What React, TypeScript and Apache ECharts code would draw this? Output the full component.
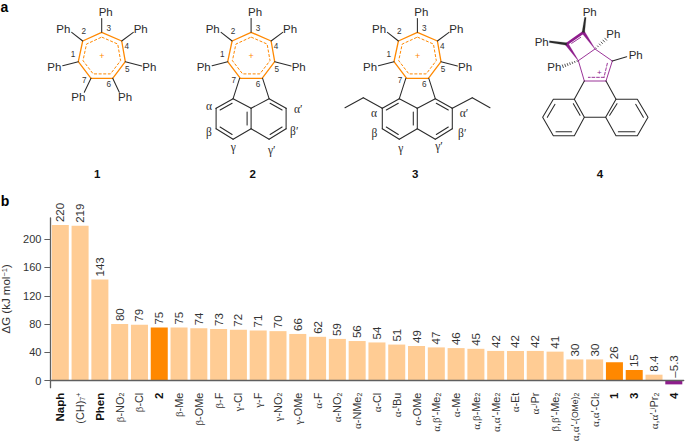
import React, { useEffect, useRef } from "react";
import * as echarts from "echarts";

const categories = [
  "{b|Naph}", "(CH){s|7}{u|+}", "{b|Phen}", "β-NO{s|2}", "β-Cl", "{b|2}", "β-Me", "β-OMe", "β-F", "γ-Cl", "γ-F",
  "γ-NO{s|2}", "γ-OMe", "α-F", "α-NO{s|2}", "α-NMe{s|2}", "α-Cl", "α-{u|t}Bu", "α-OMe", "α,β′-Me{s|2}", "α-Me",
  "α,β-Me{s|2}", "α,α′-Me{s|2}", "α-Et", "α-{u|i}Pr", "β,β′-Me{s|2}", "α,α′-{t|(OMe)}{s|2}", "α,α′-Cl{s|2}",
  "{b|1}", "{b|3}", "α,α′-{u|i}Pr{s|2}", "{b|4}",
];
const values = [220, 219, 143, 80, 79, 75, 75, 74, 73, 72, 71, 70, 66, 62, 59, 56, 54, 51, 49, 47, 46, 45, 42, 42, 42, 41, 30, 30, 26, 15, 8.4, -5.3];
const strongBars = [5, 28, 29];
const purpleBars = [31];
const yTicks = [0, 40, 80, 120, 160, 200];

const LIGHT = "#FFCC94";
const ORANGE = "#FF8800";
const PURPLE = "#8E1D8C";
const INK = "#2b2b2b";
const SANS = '"Liberation Sans", Arimo, Helvetica, sans-serif';
const SERIF = '"Liberation Serif", serif';

type P = [number, number];
const g: any[] = [];
const line = (a: P, b: P, stroke = INK, lineWidth = 1.05, lineDash?: number[]) =>
  g.push({ type: "line", silent: true, shape: { x1: a[0], y1: a[1], x2: b[0], y2: b[1] }, style: { stroke, lineWidth, lineDash, lineCap: "round" } });
const poly = (points: P[], fill: string) =>
  g.push({ type: "polygon", silent: true, shape: { points }, style: { fill, stroke: fill, lineWidth: 0.2 } });
const ring = (points: P[], stroke: string, lineWidth: number, lineDash?: number[]) =>
  g.push({ type: "polygon", silent: true, shape: { points }, style: { fill: "none", stroke, lineWidth, lineDash, lineJoin: "round" } });
const text = (t: string, x: number, y: number, size = 11.5, fill = INK, weight = "normal", family = SANS) =>
  g.push({ type: "text", silent: true, x, y, style: { text: t, fill, fontSize: size, fontWeight: weight, fontFamily: family, align: "center", verticalAlign: "middle" } });

// tropylium core, coordinates relative to molecule 1
const hept: P[] = [[101.7, 32.3], [121.7, 41], [125.3, 61.7], [112.7, 78.3], [91, 78.3], [78.3, 61.7], [82.7, 41]];
const centre: P = [101.8, 56.3];
const phBonds: P[] = [[101.7, 18.5], [133.3, 32.3], [141.7, 66], [119.3, 92.3], [84.3, 92.3], [62.7, 65.7], [71.7, 32.3]];
const phLabels: P[] = [[105.7, 12], [140.7, 28.7], [149.3, 67], [125, 97.3], [78.3, 97.3], [54.3, 67], [63.3, 28.7]];
const numbers: [string, number, number][] = [["3", 108.7, 28.5], ["4", 126.7, 46.7], ["5", 127.3, 69.3], ["6", 108.7, 84], ["7", 84.3, 80.7], ["1", 73, 54], ["2", 83.7, 31.7]];

function tropylium(dx: number, skip: number[]) {
  const shifted = hept.map((p) => [p[0] + dx, p[1]] as P);
  ring(shifted, ORANGE, 1.3);
  const inner = hept.map((p) => [centre[0] + dx + (p[0] - centre[0]) * 0.8, centre[1] + (p[1] - centre[1]) * 0.8] as P);
  ring(inner, ORANGE, 1, [3, 1.6]);
  text("+", centre[0] + dx, centre[1], 9, ORANGE);
  hept.forEach((p, i) => {
    if (skip.includes(i)) return;
    line([p[0] + dx, p[1]], [phBonds[i][0] + dx, phBonds[i][1]]);
    text("Ph", phLabels[i][0] + dx, phLabels[i][1]);
  });
  numbers.forEach(([n, x, y]) => text(n, x + dx, y, 8.2, "#333"));
}

// fused naphthalene, coordinates relative to the top vertex of the seven-membered ring
const naph = (x0: number) => {
  const R: P[] = [[18, 98.7], [35, 108.3], [35, 128.7], [18, 139.3], [0, 128.7], [0, 108.3]];
  const L: P[] = R.map((p) => [-p[0], p[1]] as P);
  const at = (p: P): P => [p[0] + x0, p[1]];
  [R, L].forEach((Q) => {
    Q.forEach((p, i) => {
      if (i === 4) return;
      line(at(p), at(Q[(i + 1) % 6]));
    });
  });
  line(at([0, 128.7]), at([0, 108.3]));
  line(at([-4, 112]), at([-4, 125]));
  [1, -1].forEach((s) => {
    line(at([s * 19, 103.2]), at([s * 31, 110]));
    line(at([s * 31, 127]), at([s * 19, 134.5]));
    line(at([s * 18, 98.7]), at([s * 11.5, 78.3]), INK);
  });
};

tropylium(0, []);
text("1", 97.3, 173.7, 11.5, "#111", "bold");

tropylium(149.4, [3, 4]);
naph(251.1);
[["α", 209, 106], ["β", 209, 131.7], ["γ", 233.3, 146.7]].forEach(([t, x, y]) => text(t as string, x as number, y as number, 11.5, INK, "normal", SERIF));
[["α′", 298.3, 109], ["β′", 294.3, 131], ["γ′", 271.7, 150]].forEach(([t, x, y]) => text(t as string, x as number, y as number, 11.5, INK, "normal", SERIF));
text("2", 252.7, 173.7, 11.5, "#111", "bold");

tropylium(315.7, [3, 4]);
naph(417.3);
line([382.3, 108.3], [363.3, 97.7]);
line([363.3, 97.7], [345, 107.7]);
line([452.3, 108.3], [472.3, 97.7]);
line([472.3, 97.7], [490, 107.7]);
[["α", 374, 112.7], ["β", 374.3, 133], ["γ", 400.7, 147.7], ["α′", 464, 112.7], ["β′", 462.3, 133], ["γ′", 439, 146]].forEach(([t, x, y]) => text(t as string, x as number, y as number, 11.5, INK, "normal", SERIF));
text("3", 415.3, 173.7, 11.5, "#111", "bold");

// molecule 4, read in the zoomed frame
const z = (x: number, y: number): P => [460 + x / 3, y / 3];
const a = z(370, 97), b = z(320, 132), c = z(355, 182), d = z(405, 147), e = z(457, 183), f = z(438, 243), h = z(373, 243);
const wedge = (wide: P, tip: P, w: number, fill: string, tipW = 0.4) => {
  const dx = tip[0] - wide[0], dy = tip[1] - wide[1], l = Math.hypot(dx, dy);
  const nx = -dy / l, ny = dx / l;
  poly([[wide[0] + nx * w / 2, wide[1] + ny * w / 2], [wide[0] - nx * w / 2, wide[1] - ny * w / 2], [tip[0] - nx * tipW / 2, tip[1] - ny * tipW / 2], [tip[0] + nx * tipW / 2, tip[1] + ny * tipW / 2]], fill);
};
const hash = (from: P, to: P, n: number, w0: number, w1: number) => {
  const dx = to[0] - from[0], dy = to[1] - from[1], l = Math.hypot(dx, dy);
  const nx = -dy / l, ny = dx / l;
  for (let i = 0; i < n; i++) {
    const t = (i + 0.5) / n;
    const w = w0 + (w1 - w0) * t;
    const x = from[0] + dx * t, y = from[1] + dy * t;
    line([x + nx * w / 2, y + ny * w / 2], [x - nx * w / 2, y - ny * w / 2], INK, 0.8);
  }
};
line(a, b, PURPLE, 2.7);
wedge(a, d, 3.2, PURPLE);
wedge(b, c, 3.2, PURPLE);
line(c, d, PURPLE, 0.9);
line(z(335, 130), z(362, 112), PURPLE, 0.9);
line(d, e, PURPLE, 0.9);
line(e, f, PURPLE, 0.9);
line(f, h, PURPLE, 0.9);
line(h, c, PURPLE, 0.9);
line(z(442, 190), z(432, 232), PURPLE, 0.9, [2.8, 1.8]);
line(z(432, 232), z(385, 232), PURPLE, 0.9, [2.8, 1.8]);
text("+", ...z(418, 217), 8, PURPLE);
wedge(a, z(376, 52), 2.6, INK, 1.6);
wedge(b, z(268, 125), 2.6, INK, 1.6);
hash(d, z(440, 115), 6, 0.6, 3);
hash(c, z(305, 200), 7, 0.6, 3);
line(e, z(500, 170));
text("Ph", ...z(389, 35));
text("Ph", ...z(245, 125));
text("Ph", ...z(460, 103));
text("Ph", ...z(283, 202));
text("Ph", ...z(527, 166));
line(h, z(343, 298));
line(f, z(468, 298));
const leftRing: P[] = [z(343, 298), z(373, 352), z(343, 407), z(280, 407), z(248, 352), z(280, 298)];
const rightRing: P[] = [z(468, 298), z(437, 352), z(468, 407), z(532, 407), z(564, 352), z(532, 298)];
ring(leftRing, INK, 1.05);
ring(rightRing, INK, 1.05);
line(z(373, 352), z(437, 352));
line(z(340, 311), z(360, 346));
line(z(288, 395), z(335, 395));
line(z(262, 352), z(285, 313));
line(z(471, 311), z(449, 346));
line(z(475, 395), z(525, 395));
line(z(550, 352), z(527, 313));
text("4", 600, 173.7, 11.5, "#111", "bold");

text("a", 4.5, 7, 14, "#000", "bold");
text("b", 5, 200.5, 14, "#000", "bold");

const barColour = (i: number) => (purpleBars.includes(i) ? PURPLE : strongBars.includes(i) ? ORANGE : LIGHT);
const wrapGreek = (s: string) => s.replace(/[αβγ]/g, (m) => `{g|${m}}`);

export default function App() {
  const ref = useRef<HTMLDivElement>(null);
  useEffect(() => {
    const chart = echarts.init(ref.current!, undefined, { renderer: "svg" });
    chart.setOption({
      animation: false,
      backgroundColor: "#fff",
      grid: { left: 50.4, right: 1.3, top: 218, bottom: 56.3, outerBoundsMode: "none" },
      xAxis: {
        type: "category",
        data: categories,
        z: 5,
        axisTick: { show: false },
        axisLine: { onZero: true, lineStyle: { color: "#5f5f5f", width: 1.3 } },
        axisLabel: {
          interval: 0,
          rotate: 90,
          margin: 5,
          fontSize: 10.9,
          fontFamily: SANS,
          color: "#333",
          hideOverlap: false,
          formatter: (v: string) => wrapGreek(v),
          rich: {
            b: { fontWeight: "bold", fontSize: 11.5, fontFamily: SANS, color: "#111" },
            g: { fontFamily: SERIF, fontSize: 11, color: "#333" },
            t: { fontSize: 8.6, fontFamily: SANS, color: "#333" },
            s: { fontSize: 7, fontFamily: SANS, color: "#333", verticalAlign: "bottom", padding: [3, 0, 0, 0] },
            u: { fontSize: 7, fontFamily: SANS, color: "#333", verticalAlign: "top", padding: [0, 0, 3, 0] },
          },
        },
      },
      yAxis: {
        type: "value",
        min: -10,
        max: 230,
        name: "ΔG (kJ mol{u|−1})",
        nameLocation: "middle",
        nameGap: 30,
        nameRotate: 90,
        nameTextStyle: {
          fontSize: 11.5,
          fontFamily: SANS,
          color: "#333",
          padding: [0, 0, 0, 8],
          rich: { u: { fontSize: 7.5, fontFamily: SANS, color: "#333", verticalAlign: "top", padding: [0, 0, 3, 0] } },
        },
        splitLine: { show: false },
        axisLine: { show: true, lineStyle: { color: "#5f5f5f", width: 1.3 } },
        axisTick: { show: true, length: 6, customValues: yTicks, lineStyle: { color: "#5f5f5f", width: 1 } },
        axisLabel: { customValues: yTicks, margin: 9, fontSize: 11, fontFamily: SANS, color: "#333" },
      },
      series: [
        {
          type: "bar",
          barCategoryGap: "14%",
          data: values.map((v, i) => ({ value: v, itemStyle: { color: barColour(i) } })),
          label: {
            show: true,
            position: "top",
            rotate: 90,
            align: "left",
            verticalAlign: "middle",
            distance: 3,
            fontSize: 11.5,
            fontFamily: SANS,
            color: "#333",
            formatter: (p: any) => String(p.value).replace("-", "–"),
          },
        },
      ],
      graphic: { elements: g },
    });
    return () => chart.dispose();
  }, []);
  return <div ref={ref} style={{ position: "absolute", left: 0, top: 0, width: 685, height: 444 }} />;
}
